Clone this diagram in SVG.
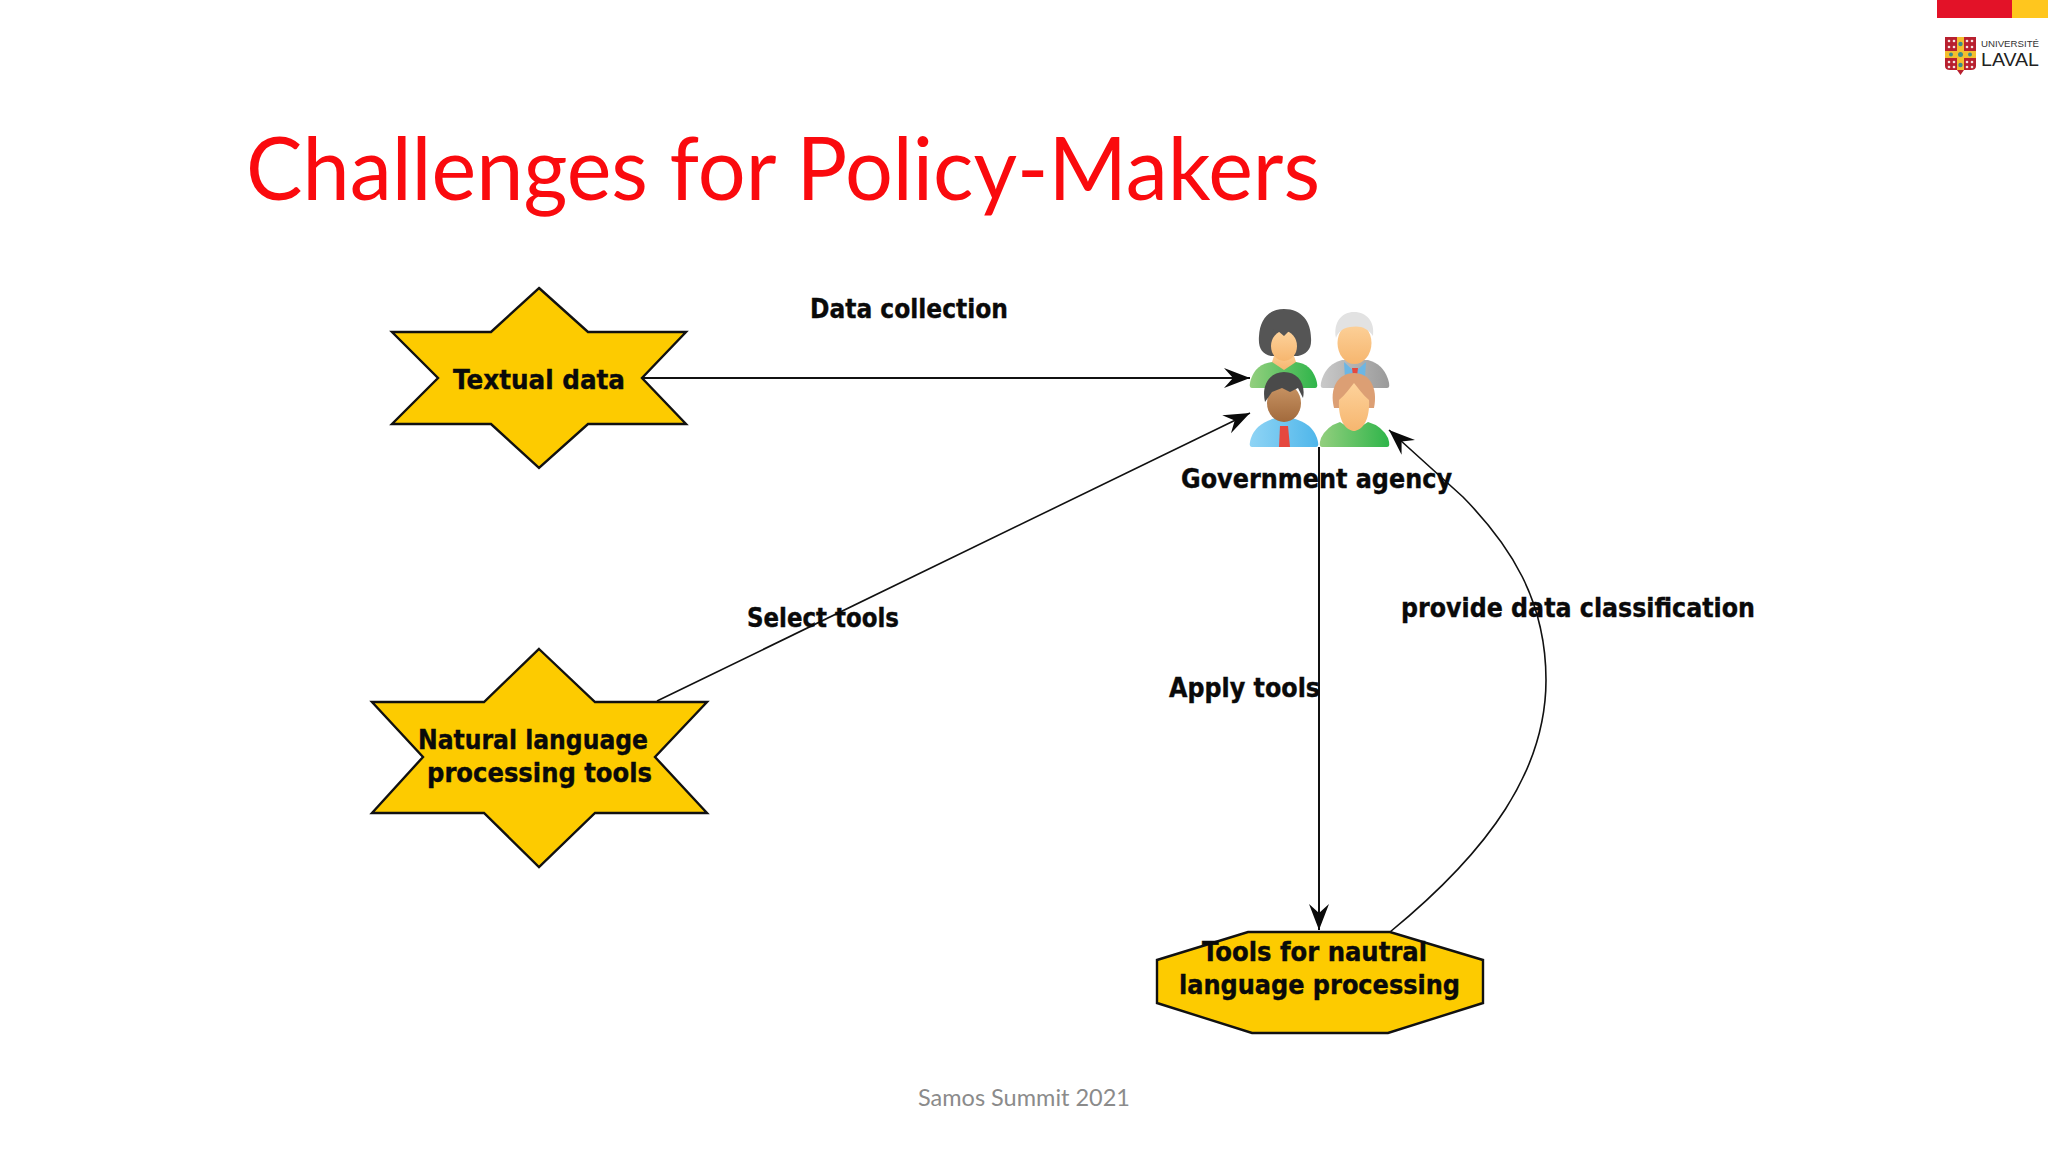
<svg xmlns="http://www.w3.org/2000/svg" width="2048" height="1152" viewBox="0 0 2048 1152">
<defs>
<style>
.shape{fill:#FDCB00;stroke:#111;stroke-width:2.4;stroke-linejoin:miter}
.lbl{font-family:"DejaVu Sans","Liberation Sans",sans-serif;font-size:26px;font-weight:700;fill:#0a0a0a;stroke:#0a0a0a;stroke-width:.4}
.edge{fill:none;stroke:#111;stroke-width:2}
.thin{stroke-width:1.6}
.skin{fill:url(#skinG)}
</style>
<marker id="arrow" markerUnits="userSpaceOnUse" viewBox="-28 -12 30 24" refX="0" refY="0" markerWidth="30" markerHeight="24" orient="auto"><path d="M0 0L-26 -10L-17 0L-26 10Z" fill="#0a0a0a"/></marker>
<linearGradient id="skinG" x1="0" y1="0" x2="0" y2="1"><stop offset="0" stop-color="#FDD29B"/><stop offset="1" stop-color="#F6B66F"/></linearGradient>
<linearGradient id="brownG" x1="0" y1="0" x2="0" y2="1"><stop offset="0" stop-color="#C99565"/><stop offset="1" stop-color="#A26A3C"/></linearGradient>
<linearGradient id="greenG" x1="0" y1="0" x2="1" y2="0"><stop offset="0" stop-color="#93CF7E"/><stop offset="1" stop-color="#2FB54A"/></linearGradient>
<linearGradient id="greyG" x1="0" y1="0" x2="1" y2="0"><stop offset="0" stop-color="#C9C9C9"/><stop offset="1" stop-color="#9A9A9A"/></linearGradient>
<linearGradient id="blueG" x1="0" y1="0" x2="1" y2="0"><stop offset="0" stop-color="#8FD4F5"/><stop offset="1" stop-color="#4FB6EA"/></linearGradient>
</defs>
<rect width="2048" height="1152" fill="#fff"/>

<g id="logo">
<rect x="1937" y="0" width="75" height="18" fill="#E31228"/>
<rect x="2012" y="0" width="36" height="18" fill="#FFC61E"/>
<path d="M1945 37H1976V66Q1976 70 1971 70H1964L1960.500 75L1957 70H1950Q1945 70 1945 66Z" fill="#B8202F"/>
<path d="M1957 37H1964V51H1976V58H1964V70H1957V58H1945V51H1957Z" fill="#F3BE2E"/>
<circle cx="1960.500" cy="54.500" r="2.500" fill="#3C8C8C"/><circle cx="1960.500" cy="44" r="2.200" fill="#3C8C8C"/><circle cx="1960.500" cy="65" r="2.200" fill="#3C8C8C"/><circle cx="1951" cy="54.500" r="2" fill="#3C8C8C"/><circle cx="1970" cy="54.500" r="2" fill="#3C8C8C"/>
<g fill="#F4E4E4"><circle cx="1949" cy="41" r="1.300"/><circle cx="1954" cy="41" r="1.300"/><circle cx="1949" cy="47" r="1.300"/><circle cx="1954" cy="47" r="1.300"/><circle cx="1967" cy="41" r="1.300"/><circle cx="1972" cy="41" r="1.300"/><circle cx="1967" cy="47" r="1.300"/><circle cx="1972" cy="47" r="1.300"/><circle cx="1949" cy="62" r="1.300"/><circle cx="1954" cy="62" r="1.300"/><circle cx="1949" cy="67" r="1.300"/><circle cx="1954" cy="67" r="1.300"/><circle cx="1967" cy="62" r="1.300"/><circle cx="1972" cy="62" r="1.300"/><circle cx="1967" cy="67" r="1.300"/><circle cx="1972" cy="67" r="1.300"/></g>
<text x="1981" y="47" font-family="'Liberation Sans',sans-serif" font-size="9" fill="#333" textLength="58" lengthAdjust="spacingAndGlyphs">UNIVERSITÉ</text>
<text x="1981" y="66" font-family="'Liberation Sans',sans-serif" font-size="19" fill="#222" textLength="58" lengthAdjust="spacingAndGlyphs">LAVAL</text>
</g>

<text id="title" x="246" y="200" font-family="Lato,'Open Sans',sans-serif" font-size="88" fill="#FA0A0E" textLength="1074" lengthAdjust="spacingAndGlyphs">Challenges for Policy-Makers</text>
<text id="footer" x="1024" y="1106" text-anchor="middle" font-family="Lato,'Open Sans',sans-serif" font-size="23.500" fill="#8b8b8b">Samos Summit 2021</text>

<g id="connectors">
<path id="edge-data" class="edge" d="M642 378H1250" marker-end="url(#arrow)"/>
<path id="edge-select" class="edge thin" d="M657 701L1250 413" marker-end="url(#arrow)"/>
<path id="edge-apply" class="edge" d="M1319 447V930" marker-end="url(#arrow)"/>
<path id="edge-provide" class="edge thin" d="M1390 932C1490 850 1546 770 1546 680C1546 600 1510 545 1463 497L1389 430" marker-end="url(#arrow)"/>
<text class="lbl" x="810" y="318" textLength="198" lengthAdjust="spacingAndGlyphs">Data collection</text>
<text class="lbl" x="747" y="627" textLength="152" lengthAdjust="spacingAndGlyphs">Select tools</text>
<text class="lbl" x="1169" y="697" textLength="151" lengthAdjust="spacingAndGlyphs">Apply tools</text>
<text class="lbl" x="1401" y="617" textLength="354" lengthAdjust="spacingAndGlyphs">provide data classification</text>
</g>

<g id="node-textual-data">
<path class="shape" d="M539 288L588 332H686L642 378L686 424H588L539 468L491 424H392L438 378L392 332H491Z"/>
<text class="lbl" x="453" y="389" textLength="172" lengthAdjust="spacingAndGlyphs">Textual data</text>
</g>

<g id="node-nlp-tools">
<path class="shape" d="M539 649L595 702H707L655 757L707 813H595L539 867L484 813H372L423 757L372 702H484Z"/>
<text class="lbl" x="418" y="749" textLength="230" lengthAdjust="spacingAndGlyphs">Natural language</text>
<text class="lbl" x="427" y="782" textLength="225" lengthAdjust="spacingAndGlyphs">processing tools</text>
</g>

<g id="node-tools">
<path class="shape" d="M1248 932H1390L1483 960V1003L1388 1033H1252L1157 1003V960Z"/>
<text class="lbl" x="1202" y="961" textLength="225" lengthAdjust="spacingAndGlyphs">Tools for nautral</text>
<text class="lbl" x="1179" y="994" textLength="281" lengthAdjust="spacingAndGlyphs">language processing</text>
</g>

<g id="node-government">
<g id="person-a">
<path d="M1284 309C1302 309 1311 322 1311 338C1312 350 1306 354 1298 356H1271C1262 354 1258 348 1259 336C1260 320 1268 309 1284 309Z" fill="#555"/>
<path d="M1252 388Q1248 388 1251 379Q1256 364 1272 362H1296Q1311 364 1316 379Q1319 388 1315 388Z" fill="url(#greenG)"/>
<path d="M1272 362L1284 370L1296 362L1292 350H1276Z" class="skin"/>
<ellipse cx="1284" cy="346" rx="13" ry="15" class="skin"/>
<path d="M1270 340L1274 328L1296 328L1298 340L1290 330L1284 336L1278 331Z" fill="#555"/>
</g>
<g id="person-b">
<path d="M1323 388Q1319 388 1322 379Q1327 364 1342 360H1368Q1383 364 1388 379Q1391 388 1387 388Z" fill="url(#greyG)"/>
<path d="M1344 362L1355 372L1366 362L1365 378H1345Z" fill="#6CB6E4"/>
<path d="M1352 368H1358L1357 376H1353Z" fill="#E5483F"/>
<ellipse cx="1354.500" cy="343" rx="17" ry="21" class="skin"/>
<path d="M1336 338C1333 322 1342 312 1354 312C1367 312 1375 322 1373 336C1368 328 1360 325 1350 327C1343 328 1338 332 1336 338Z" fill="#E2E2E2"/>
</g>
<g id="person-c">
<path d="M1252 447Q1248 447 1251 438Q1256 423 1276 418H1292Q1312 423 1317 438Q1320 447 1316 447Z" fill="url(#blueG)"/>
<path d="M1280 426H1288L1290 447H1279Z" fill="#E5483F"/>
<ellipse cx="1284" cy="403" rx="17" ry="19" fill="url(#brownG)"/>
<path d="M1265 402C1261 385 1270 372 1284 372C1298 372 1306 384 1303 398L1298 388L1290 392L1282 388L1272 392Z" fill="#4A4A4A"/>
</g>
<g id="person-d">
<path d="M1322 447Q1318 447 1321 438Q1327 426 1340 422L1354 431L1368 422Q1382 426 1388 438Q1391 447 1387 447Z" fill="url(#greenG)"/>
<path d="M1334 408C1329 388 1338 373 1354 373C1370 373 1378 388 1374 408Z" fill="#DC9F74"/>
<path d="M1339 400C1345 395 1350 388 1354 383C1358 388 1363 395 1369 400C1370 418 1364 430 1354 431C1344 430 1338 418 1339 400Z" class="skin"/>
</g>
<text class="lbl" x="1181" y="488" textLength="271" lengthAdjust="spacingAndGlyphs">Government agency</text>
</g>
</svg>
